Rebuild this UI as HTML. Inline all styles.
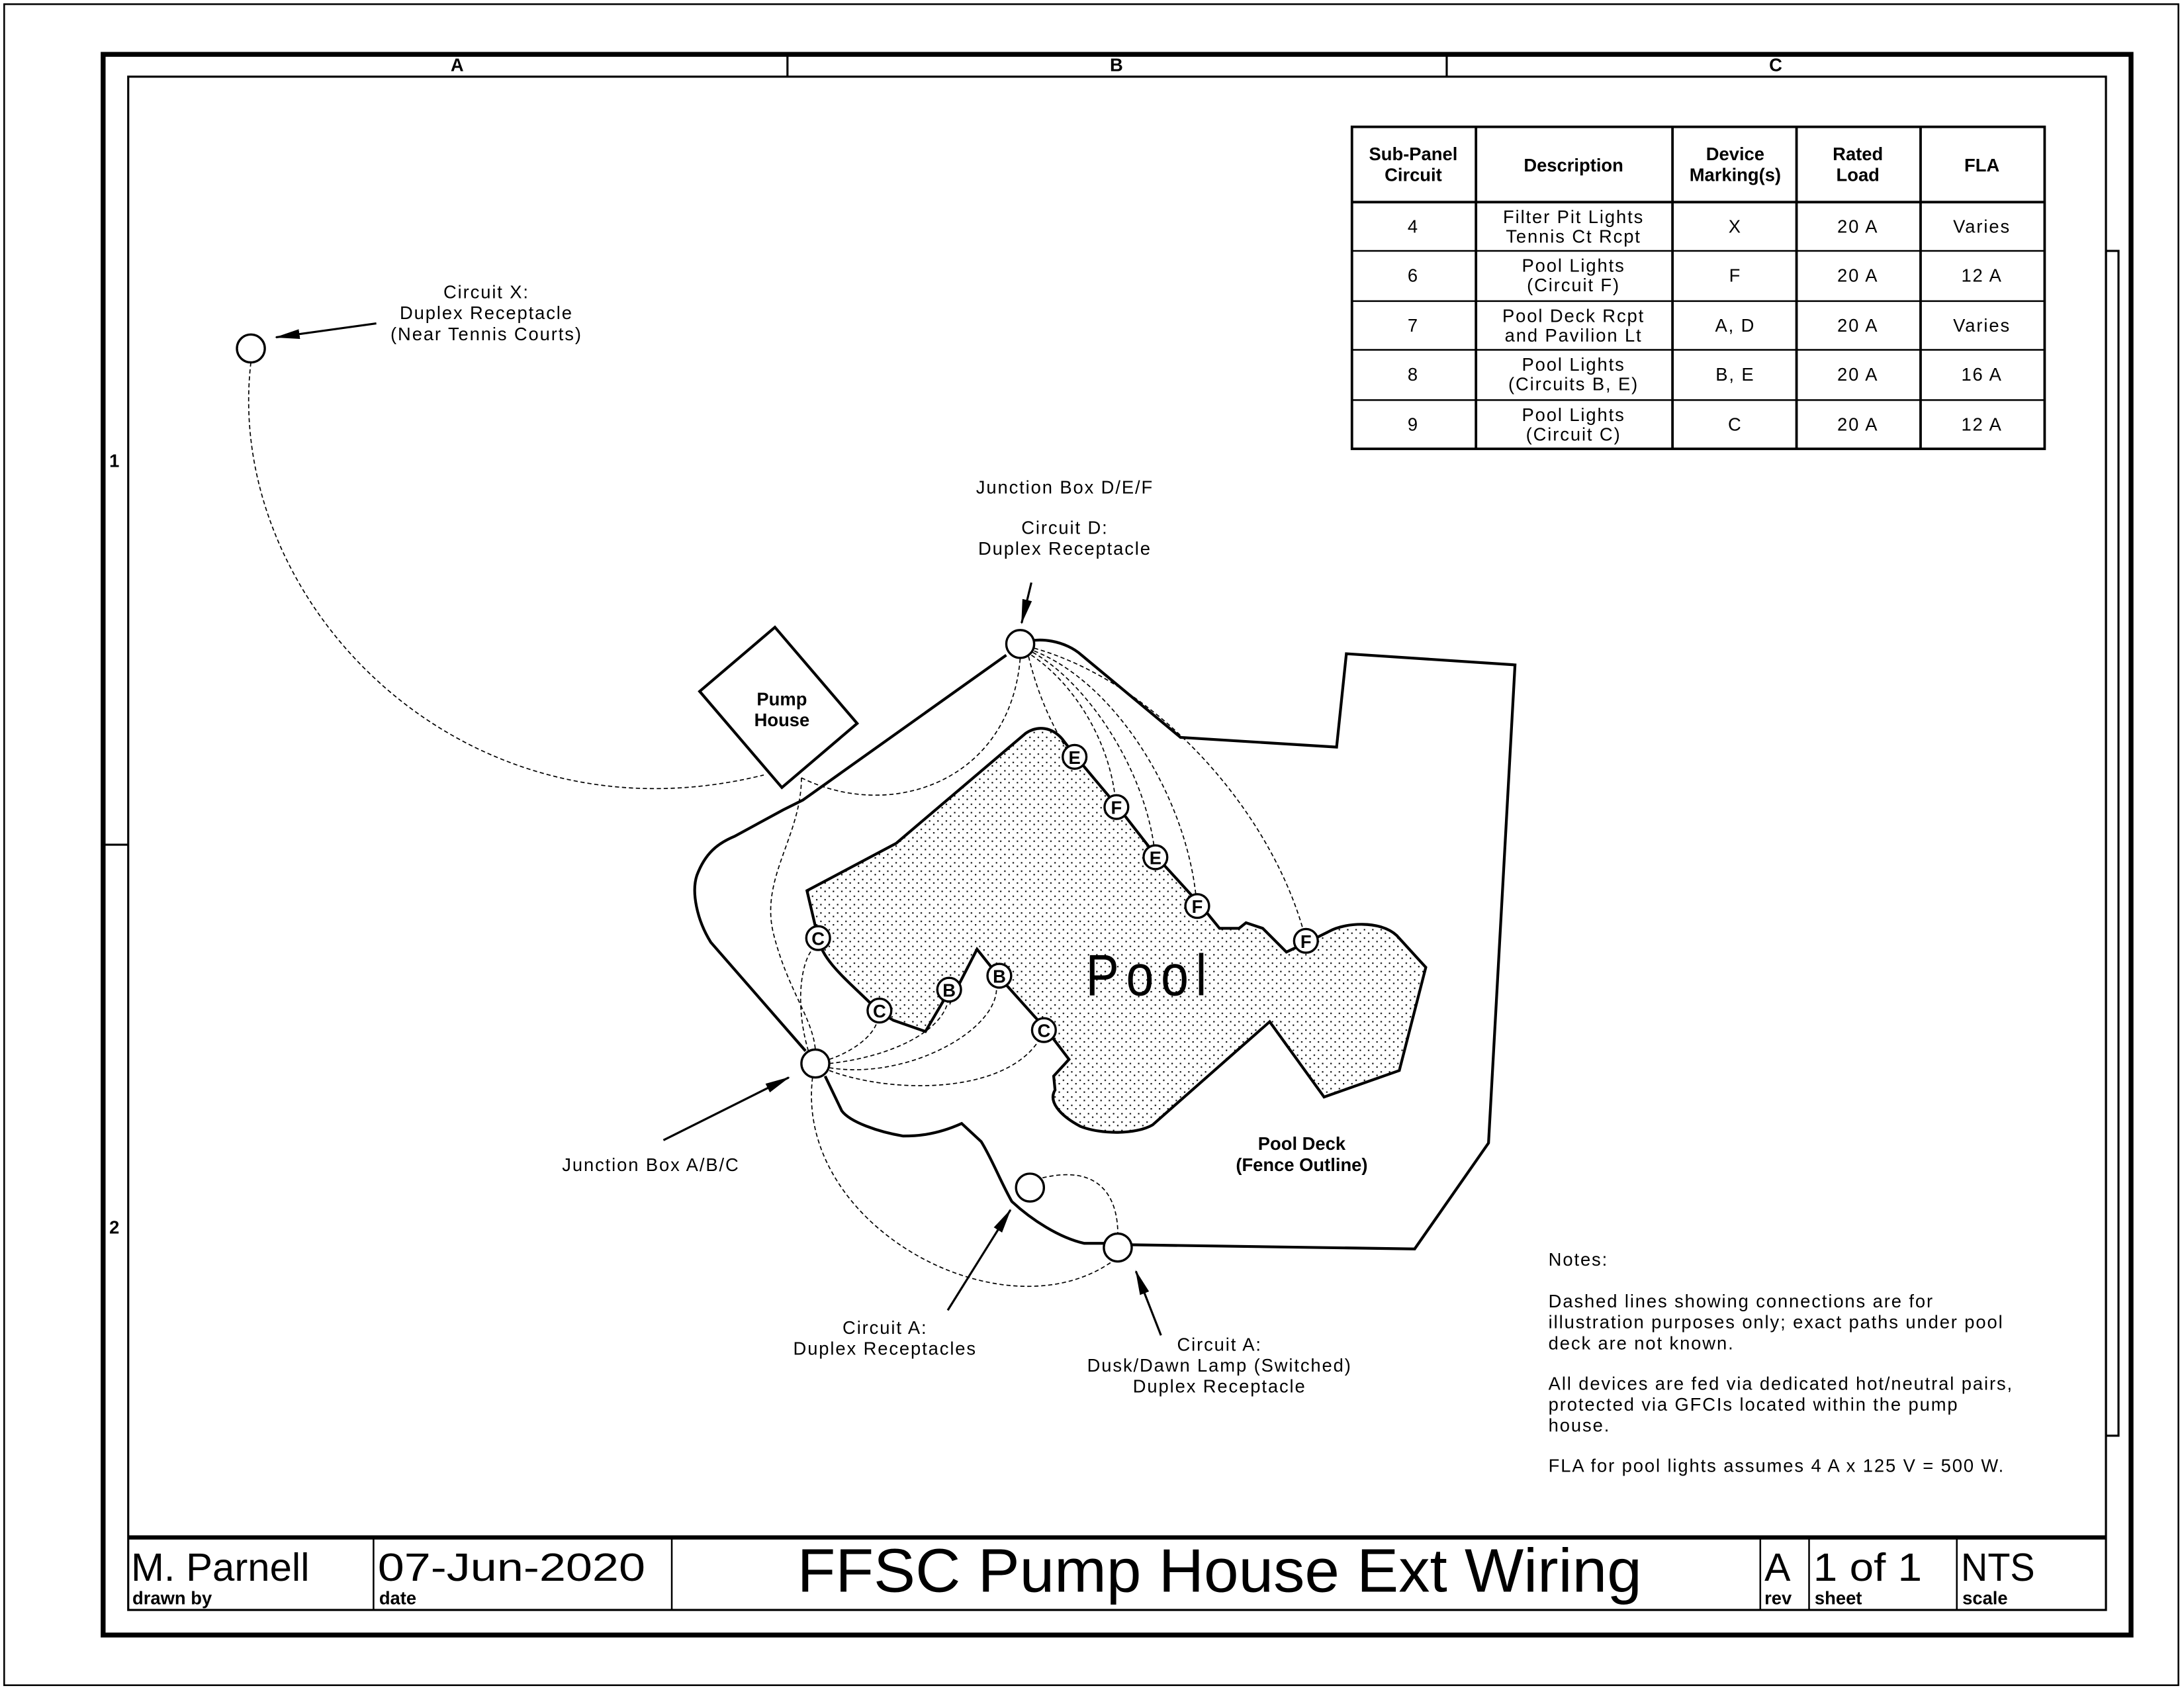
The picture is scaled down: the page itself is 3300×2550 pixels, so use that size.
<!DOCTYPE html>
<html><head><meta charset="utf-8"><style>
html,body{margin:0;padding:0;background:#fff;}
svg{display:block;}
text{font-family:"Liberation Sans",sans-serif;fill:#000;}
.s{font-size:13px;letter-spacing:0.9px;}
.b{font-size:13px;font-weight:bold;}
.c{text-anchor:middle;}
</style></head><body>
<svg width="3300" height="2550" viewBox="0 0 1567 1211" preserveAspectRatio="none" xmlns="http://www.w3.org/2000/svg">
<defs>
<pattern id="dots" width="6" height="6" patternUnits="userSpaceOnUse">
<rect x="0.5" y="0.5" width="1" height="1" fill="#000"/>
<rect x="3.5" y="3" width="1" height="1" fill="#000"/>
</pattern>
<marker id="ah2" viewBox="0 0 18 8" markerWidth="18" markerHeight="8" refX="17" refY="4" orient="auto" markerUnits="userSpaceOnUse">
<path d="M0,0.5 L18,4 L0,7.5 Z" fill="#000"/>
</marker>
</defs>
<rect width="1567" height="1211" fill="#fff"/>
<!-- borders -->
<rect x="3" y="3" width="1560" height="1206" fill="none" stroke="#000" stroke-width="1.2"/>
<rect x="74" y="39" width="1455" height="1134" fill="none" stroke="#000" stroke-width="3.5"/>
<rect x="92" y="55" width="1419" height="1100" fill="none" stroke="#000" stroke-width="1.5"/>
<line x1="565" y1="39" x2="565" y2="55" stroke="#000" stroke-width="1.5"/>
<line x1="1038" y1="39" x2="1038" y2="55" stroke="#000" stroke-width="1.5"/>
<line x1="74" y1="606" x2="92" y2="606" stroke="#000" stroke-width="1.5"/>
<rect x="1511" y="180" width="9" height="850" fill="none" stroke="#000" stroke-width="1.5"/>
<text x="328" y="51" class="b c" font-size="12">A</text>
<text x="801" y="51" class="b c" font-size="12">B</text>
<text x="1274" y="51" class="b c" font-size="12">C</text>
<text x="82" y="335" class="b c" font-size="12">1</text>
<text x="82" y="885" class="b c" font-size="12">2</text>

<!-- table -->
<g stroke="#000" stroke-width="1.8" fill="none">
<rect x="970" y="91" width="497" height="231"/>
<line x1="970" y1="145" x2="1467" y2="145"/>
<line x1="970" y1="180" x2="1467" y2="180" stroke-width="1.2"/>
<line x1="970" y1="216" x2="1467" y2="216" stroke-width="1.2"/>
<line x1="970" y1="251" x2="1467" y2="251" stroke-width="1.2"/>
<line x1="970" y1="287" x2="1467" y2="287" stroke-width="1.2"/>
<line x1="1059" y1="91" x2="1059" y2="322"/>
<line x1="1200" y1="91" x2="1200" y2="322"/>
<line x1="1289" y1="91" x2="1289" y2="322"/>
<line x1="1378" y1="91" x2="1378" y2="322"/>
</g>
<text x="1014" y="115" class="b c">Sub-Panel</text><text x="1014" y="130" class="b c">Circuit</text>
<text x="1129" y="123" class="b c">Description</text>
<text x="1245" y="115" class="b c">Device</text><text x="1245" y="130" class="b c">Marking(s)</text>
<text x="1333" y="115" class="b c">Rated</text><text x="1333" y="130" class="b c">Load</text>
<text x="1422" y="123" class="b c">FLA</text>
<g>
<text x="1014" y="167" class="s c">4</text><text x="1129" y="160" class="s c">Filter Pit Lights</text><text x="1129" y="174" class="s c">Tennis Ct Rcpt</text><text x="1245" y="167" class="s c">X</text><text x="1333" y="167" class="s c">20 A</text><text x="1422" y="167" class="s c">Varies</text>
<text x="1014" y="202" class="s c">6</text><text x="1129" y="195" class="s c">Pool Lights</text><text x="1129" y="209" class="s c">(Circuit F)</text><text x="1245" y="202" class="s c">F</text><text x="1333" y="202" class="s c">20 A</text><text x="1422" y="202" class="s c">12 A</text>
<text x="1014" y="238" class="s c">7</text><text x="1129" y="231" class="s c">Pool Deck Rcpt</text><text x="1129" y="245" class="s c">and Pavilion Lt</text><text x="1245" y="238" class="s c">A, D</text><text x="1333" y="238" class="s c">20 A</text><text x="1422" y="238" class="s c">Varies</text>
<text x="1014" y="273" class="s c">8</text><text x="1129" y="266" class="s c">Pool Lights</text><text x="1129" y="280" class="s c">(Circuits B, E)</text><text x="1245" y="273" class="s c">B, E</text><text x="1333" y="273" class="s c">20 A</text><text x="1422" y="273" class="s c">16 A</text>
<text x="1014" y="309" class="s c">9</text><text x="1129" y="302" class="s c">Pool Lights</text><text x="1129" y="316" class="s c">(Circuit C)</text><text x="1245" y="309" class="s c">C</text><text x="1333" y="309" class="s c">20 A</text><text x="1422" y="309" class="s c">12 A</text>
</g>

<!-- pool -->
<path d="M579,639 L643,605 L736,526 C745,520 755,522 762,530 L772,543 L803,580 L831,616 L862,650 L875,666 L889,666 L894,662 L906,666 L923,683 L940,675 L954,668 C965,662 990,660 1002,671 L1023,694 L1004,768 L950,787 L911,733 L827,807 C815,814 790,814 775,808 C760,800 752,790 757,782 L756,772 L767,760 L751,739 L717,701 L701,681 L682,718 L681,711 L664,740 L641,732 L631,726 C610,705 590,690 587,673 Z" fill="url(#dots)" stroke="#000" stroke-width="2"/>
<text x="825" y="714" class="c" font-size="42" letter-spacing="6" transform="translate(825 0) scale(0.85 1) translate(-825 0)">Pool</text>

<!-- fence -->
<path d="M732,462 C745,456 765,460 776,470 L847,529 L959,536 L966,469 L1087,477 L1068,820 L1015,896 L810,893 M795,892 L778,892 C760,888 740,875 726,862 C718,848 712,832 704,819 L690,806 C670,815 655,815 648,815 C630,812 610,805 604,797 L592,772 M578,754 L510,676 C500,660 496,640 500,628 C506,612 515,605 527,600 L562,581 L576,574 L722,470" fill="none" stroke="#000" stroke-width="2"/>

<!-- pump house -->
<path d="M502,496 L556,450 L615,519 L561,565 Z" fill="#fff" stroke="#000" stroke-width="2"/>
<text x="561" y="506" class="b c">Pump</text>
<text x="561" y="521" class="b c">House</text>

<!-- dashed -->
<g fill="none" stroke="#000" stroke-width="0.8" stroke-dasharray="3,2">
<path d="M180,260 C160,430 330,610 548,556"/>
<path d="M575,558 C640,590 725,560 732,472"/>
<path d="M575,558 C575,600 545,630 555,670 C565,710 583,730 585,753"/>
<path d="M738,471 C745,500 755,520 765,537"/>
<path d="M740,470 C770,490 795,530 800,571"/>
<path d="M741,468 C780,490 820,550 828,607"/>
<path d="M742,467 C800,490 850,570 858,642"/>
<path d="M742,465 C830,490 910,580 935,667"/>
<path d="M580,754 C570,720 575,690 583,681"/>
<path d="M595,760 C610,755 625,745 629,734"/>
<path d="M595,763 C640,758 675,740 680,719"/>
<path d="M595,766 C650,775 715,740 715,709"/>
<path d="M595,768 C640,785 720,785 745,747"/>
<path d="M583,773 C570,880 720,960 798,905"/>
<path d="M748,845 C790,835 802,860 802,885"/>
</g>

<!-- circles -->
<g fill="#fff" stroke="#000" stroke-width="1.6">
<circle cx="180" cy="250" r="10"/>
<circle cx="732" cy="462" r="10"/>
<circle cx="585" cy="763" r="10"/>
<circle cx="739" cy="852" r="10"/>
<circle cx="802" cy="895" r="10"/>
</g>
<g fill="#fff" stroke="#000" stroke-width="1.6">
<circle cx="771" cy="543" r="8.5"/><circle cx="801" cy="579" r="8.5"/><circle cx="829" cy="615" r="8.5"/><circle cx="859" cy="650" r="8.5"/><circle cx="937" cy="675" r="8.5"/>
<circle cx="587" cy="673" r="8.5"/><circle cx="631" cy="725" r="8.5"/><circle cx="681" cy="710" r="8.5"/><circle cx="717" cy="700" r="8.5"/><circle cx="749" cy="739" r="8.5"/>
</g>
<text x="771" y="548" class="b c" font-size="12">E</text><text x="801" y="584" class="b c" font-size="12">F</text><text x="829" y="620" class="b c" font-size="12">E</text><text x="859" y="655" class="b c" font-size="12">F</text><text x="937" y="680" class="b c" font-size="12">F</text>
<text x="587" y="678" class="b c" font-size="12">C</text><text x="631" y="730" class="b c" font-size="12">C</text><text x="681" y="715" class="b c" font-size="12">B</text><text x="717" y="705" class="b c" font-size="12">B</text><text x="749" y="744" class="b c" font-size="12">C</text>

<!-- arrows -->
<g stroke="#000" stroke-width="1.5" fill="none">
<line x1="270" y1="232" x2="198" y2="242" marker-end="url(#ah2)"/>
<line x1="740" y1="418" x2="733" y2="447" marker-end="url(#ah2)"/>
<line x1="476" y1="818" x2="566" y2="773" marker-end="url(#ah2)"/>
<line x1="680" y1="940" x2="725" y2="868" marker-end="url(#ah2)"/>
<line x1="833" y1="958" x2="815" y2="912" marker-end="url(#ah2)"/>
</g>

<!-- labels -->
<text x="349" y="214" class="s c">Circuit X:</text>
<text x="349" y="229" class="s c">Duplex Receptacle</text>
<text x="349" y="244" class="s c">(Near Tennis Courts)</text>
<text x="764" y="354" class="s c">Junction Box D/E/F</text>
<text x="764" y="383" class="s c">Circuit D:</text>
<text x="764" y="398" class="s c">Duplex Receptacle</text>
<text x="467" y="840" class="s c">Junction Box A/B/C</text>
<text x="635" y="957" class="s c">Circuit A:</text>
<text x="635" y="972" class="s c">Duplex Receptacles</text>
<text x="875" y="969" class="s c">Circuit A:</text>
<text x="875" y="984" class="s c">Dusk/Dawn Lamp (Switched)</text>
<text x="875" y="999" class="s c">Duplex Receptacle</text>
<text x="934" y="825" class="b c">Pool Deck</text>
<text x="934" y="840" class="b c">(Fence Outline)</text>

<text x="1111" y="908" class="s">Notes:</text>
<text x="1111" y="938" class="s">Dashed lines showing connections are for</text>
<text x="1111" y="953" class="s">illustration purposes only; exact paths under pool</text>
<text x="1111" y="968" class="s">deck are not known.</text>
<text x="1111" y="997" class="s">All devices are fed via dedicated hot/neutral pairs,</text>
<text x="1111" y="1012" class="s">protected via GFCIs located within the pump</text>
<text x="1111" y="1027" class="s">house.</text>
<text x="1111" y="1056" class="s">FLA for pool lights assumes 4 A x 125 V = 500 W.</text>

<!-- title block -->
<line x1="92" y1="1103" x2="1511" y2="1103" stroke="#000" stroke-width="3"/>
<g stroke="#000" stroke-width="1.2">
<line x1="268" y1="1103" x2="268" y2="1155"/>
<line x1="482" y1="1103" x2="482" y2="1155"/>
<line x1="1263" y1="1103" x2="1263" y2="1155"/>
<line x1="1298" y1="1103" x2="1298" y2="1155"/>
<line x1="1404" y1="1103" x2="1404" y2="1155"/>
</g>
<text x="94" y="1134" font-size="28" textLength="128" lengthAdjust="spacingAndGlyphs">M. Parnell</text>
<text x="95" y="1151" font-size="13" font-weight="bold">drawn by</text>
<text x="271" y="1134" font-size="28" textLength="192" lengthAdjust="spacingAndGlyphs">07-Jun-2020</text>
<text x="272" y="1151" font-size="13" font-weight="bold">date</text>
<text x="572" y="1142" font-size="44" textLength="606" lengthAdjust="spacingAndGlyphs">FFSC Pump House Ext Wiring</text>
<text x="1266" y="1134" font-size="28">A</text>
<text x="1266" y="1151" font-size="13" font-weight="bold">rev</text>
<text x="1301" y="1134" font-size="28" textLength="78" lengthAdjust="spacingAndGlyphs">1 of 1</text>
<text x="1302" y="1151" font-size="13" font-weight="bold">sheet</text>
<text x="1407" y="1134" font-size="28" textLength="53" lengthAdjust="spacingAndGlyphs">NTS</text>
<text x="1408" y="1151" font-size="13" font-weight="bold">scale</text>
</svg>
</body></html>
